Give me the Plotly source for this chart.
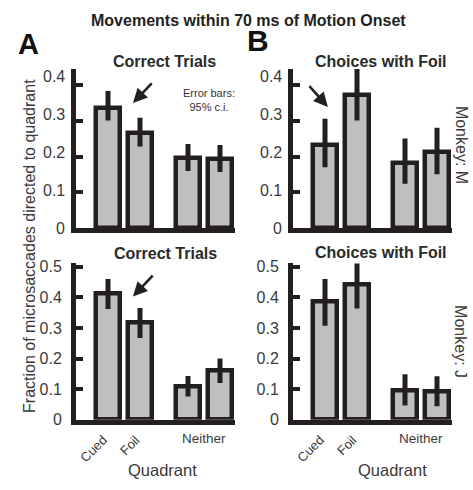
import plotly.graph_objects as go

# ---------------- data ----------------
positions = [1, 2, 3.5, 4.5]
tick_names = ["Cued", "Foil", "Neither"]
tick_pos = [1, 2, 4]
y_ticks = [0, 0.1, 0.2, 0.3, 0.4, 0.5]
y_tick_text = ["0", "0.1", "0.2", "0.3", "0.4", "0.5"]

# Monkey M (top row)
m_correct = [0.335, 0.265, 0.195, 0.193]
m_correct_lo = [0.300, 0.228, 0.160, 0.157]
m_correct_hi = [0.382, 0.308, 0.235, 0.232]

m_foil = [0.232, 0.370, 0.182, 0.212]
m_foil_lo = [0.170, 0.300, 0.124, 0.151]
m_foil_hi = [0.305, 0.450, 0.250, 0.280]

# Monkey J (bottom row)
j_correct = [0.413, 0.317, 0.110, 0.160]
j_correct_lo = [0.362, 0.267, 0.076, 0.120]
j_correct_hi = [0.460, 0.365, 0.143, 0.200]

j_foil = [0.386, 0.443, 0.095, 0.092]
j_foil_lo = [0.307, 0.364, 0.047, 0.044]
j_foil_hi = [0.460, 0.520, 0.149, 0.142]

panel_titles = ["Correct Trials", "Choices with Foil", "Correct Trials", "Choices with Foil"]
monkeys = ["Monkey: M", "Monkey: J"]

W, H = 473, 490
INK = "#231f20"
FILL = "#bdbfc1"
TXT = "#3a3a3a"
FONT = "Liberation Sans, Arial, sans-serif"

fig = go.Figure()

panels = [
    (m_correct, m_correct_lo, m_correct_hi, "x", "y"),
    (m_foil, m_foil_lo, m_foil_hi, "x2", "y2"),
    (j_correct, j_correct_lo, j_correct_hi, "x3", "y3"),
    (j_foil, j_foil_lo, j_foil_hi, "x4", "y4"),
]
for vals, lo, hi, xa, ya in panels:
    fig.add_trace(go.Bar(
        x=positions, y=vals, xaxis=xa, yaxis=ya, width=0.78,
        marker=dict(color=FILL, line=dict(color=INK, width=4.5)),
        error_y=dict(type="data", symmetric=False,
                     array=[h - v for h, v in zip(hi, vals)],
                     arrayminus=[v - l for v, l in zip(vals, lo)],
                     color=INK, thickness=5, width=0),
        showlegend=False, hoverinfo="skip",
    ))

def px_x(p):
    return p / W

def px_y(p):
    return 1 - p / H

# pixel geometry
cols = [(76, 32.0), (293, 32.0)]   # (left px, px per unit)
rows = [(66, 230, 370.0), (266, 427, 315.0)]  # (top px, bottom px, px per 1.0)
label_ppy_top = 390.0  # top-row tick labels are spaced slightly wider than the ticks

xmax = 4.98
layout_axes = {}
annotations = []
for i in range(4):
    r, c = divmod(i, 2)
    left, ppu = cols[c]
    top, bot, ppy = rows[r]
    right = left + xmax * ppu
    sfx = "" if i == 0 else str(i + 1)
    layout_axes["xaxis" + sfx] = dict(
        domain=[px_x(left), px_x(right)], range=[0, xmax],
        anchor="y" + sfx, showline=True, linecolor=INK, linewidth=5,
        showgrid=False, zeroline=False, showticklabels=False, ticks="",
        fixedrange=True,
    )
    ymax = (bot - top) / ppy
    layout_axes["yaxis" + sfx] = dict(
        domain=[px_y(bot), px_y(top)], range=[0, ymax],
        anchor="x" + sfx, showline=True, linecolor=INK, linewidth=5,
        showgrid=False, zeroline=False, ticks="inside", ticklen=7, tickwidth=4,
        tickcolor=INK, tickvals=y_ticks, ticktext=y_tick_text,
        showticklabels=(r == 1),
        tickfont=dict(size=16, color=TXT, family=FONT), ticklabelstandoff=6,
        fixedrange=True,
    )
    if r == 0:
        # top-row tick labels, placed on the slightly wider label spacing
        for v, t in zip(y_ticks, y_tick_text):
            yv = v * label_ppy_top / ppy
            if yv > ymax:
                continue
            annotations.append(dict(text=t, x=0, xref="x" + sfx, y=yv, yref="y" + sfx,
                                    xanchor="right", yanchor="middle", xshift=-9,
                                    showarrow=False,
                                    font=dict(size=16, color=TXT, family=FONT)))

def ptext(text, x, y, size, color=TXT, angle=0):
    annotations.append(dict(text=text, x=px_x(x), y=px_y(y), xref="paper", yref="paper",
                            xanchor="center", yanchor="middle", textangle=angle,
                            showarrow=False, font=dict(size=size, color=color, family=FONT)))

# main title
ptext("<b>Movements within 70 ms of Motion Onset</b>", 249, 16, 16, "#222")
# panel letters
ptext("<b>A</b>", 28, 40, 29, "#111")
ptext("<b>B</b>", 258, 37, 30, "#111")
# panel titles
title_pos = [(164, 58), (381, 58), (165, 256), (381, 255)]
for t, (tx, ty) in zip(panel_titles, title_pos):
    ptext("<b>%s</b>" % t, tx, ty, 16, "#2a2a2a")
# monkey labels
for m, my in zip(monkeys, [144, 346]):
    ptext(m, 461, my, 16, TXT, 90)
# y label
ptext("Fraction of microsaccades directed to quadrant", 30, 248, 16, TXT, -90)
# x tick labels + Quadrant titles (bottom row)
for xa, qx in [("x3", 162), ("x4", 392)]:
    for name, p in zip(tick_names, tick_pos):
        if name == "Neither":
            annotations.append(dict(text=name, x=p, xref=xa, y=px_y(446), yref="paper",
                                    xanchor="center", yanchor="middle",
                                    showarrow=False, font=dict(size=13.5, color=TXT, family=FONT)))
        else:
            annotations.append(dict(text=name, x=p, xref=xa, y=px_y(437), yref="paper",
                                    xanchor="right", yanchor="top", xshift=5, textangle=-45,
                                    showarrow=False, font=dict(size=13, color=TXT, family=FONT)))
    ptext("Quadrant", qx, 479, 16.5, TXT)
# error bar note
annotations.append(dict(text="Error bars:<br>95% c.i.", x=4.16, y=0.358, xref="x", yref="y",
                        xanchor="center", yanchor="middle",
                        showarrow=False, align="center",
                        font=dict(size=11, color="#333", family=FONT)))
# arrows (head, tail) in data coords
arrows = [("x", "y", 1.78, 0.349, 2.41, 0.408),
          ("x2", "y2", 1.09, 0.338, 0.47, 0.400),
          ("x3", "y3", 1.78, 0.403, 2.44, 0.476)]
for xa, ya, hx, hy, tx, ty in arrows:
    annotations.append(dict(x=hx, y=hy, ax=tx, ay=ty, xref=xa, yref=ya, axref=xa, ayref=ya,
                            showarrow=True, arrowhead=2, arrowsize=1.1, arrowwidth=2.6,
                            arrowcolor=INK, text=""))

fig.update_layout(
    width=W, height=H, margin=dict(l=0, r=0, t=0, b=0),
    paper_bgcolor="white", plot_bgcolor="white",
    font=dict(family=FONT, color=TXT), annotations=annotations, bargap=0,
    **layout_axes,
)
fig.write_html("out.html", config={"displayModeBar": False})
